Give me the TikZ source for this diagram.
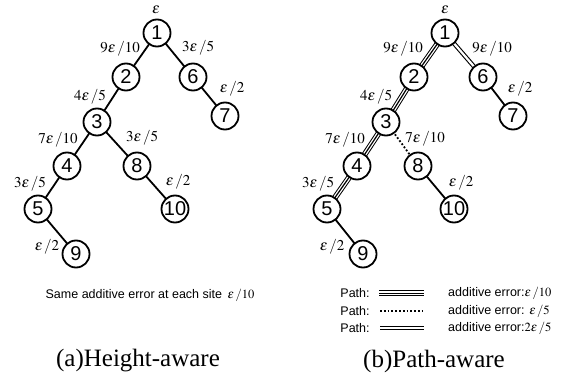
\RequirePackage{fix-cm}
\documentclass[tikz,border=0pt]{standalone}
\usepackage{mathptmx}
\usepackage{fontspec}
\setmainfont{Liberation Serif}
\newfontfamily\hv{Liberation Sans}
\begin{document}
\begin{tikzpicture}[x=1pt,y=-1pt,
  vtx/.style={circle,draw,line width=1.8pt,fill=white,minimum size=27pt,inner sep=0pt,
    font=\hv\fontsize{20}{20}\selectfont},
  lbl/.style={inner sep=0pt,font=\fontsize{15}{15}\selectfont},
  legtxt/.style={inner sep=0pt,font=\hv\fontsize{12.5}{12.5}\selectfont},
  captxt/.style={inner sep=0pt,font=\fontsize{25}{25}\selectfont},
  edge/.style={line width=1.8pt},
  dblpath/.style={line width=1.1pt,double,double distance=2.2pt},
  tripleouter/.style={line width=1pt,double,double distance=3.8pt},
  triplecore/.style={line width=1.2pt},
  dotpath/.style={line width=1.8pt,dotted}]
\useasboundingbox (0,0) rectangle (580,377);

% ---------- (a) height-aware tree ----------
\coordinate (a1) at (157,33);  \coordinate (a2) at (126,77);
\coordinate (a6) at (193,77);  \coordinate (a7) at (225,116);
\coordinate (a3) at (97,122);  \coordinate (a4) at (67,166);
\coordinate (a8) at (137,166); \coordinate (a5) at (38,209);
\coordinate (a10) at (175,209);\coordinate (a9) at (76,254);

\draw[edge] (a1)--(a2) (a1)--(a6) (a6)--(a7) (a2)--(a3) (a3)--(a4)
  (a3)--(a8) (a4)--(a5) (a8)--(a10) (a5)--(a9);

\foreach \n in {1,...,10} \node[vtx] (na\n) at (a\n) {\n};

\node[lbl] (la0) at (156,10) {$\varepsilon$};
\node[lbl] (la1) at (120,49) {$9\varepsilon\,/10$};
\node[lbl] (la2) at (198,48) {$3\varepsilon\,/5$};
\node[lbl] (la3) at (232,89) {$\varepsilon\,/2$};
\node[lbl] (la4) at (90,97) {$4\varepsilon\,/5$};
\node[lbl] (la5) at (58,140) {$7\varepsilon\,/10$};
\node[lbl] (la6) at (142,138) {$3\varepsilon\,/5$};
\node[lbl] (la7) at (178,182) {$\varepsilon\,/2$};
\node[lbl] (la8) at (30,184) {$3\varepsilon\,/5$};
\node[lbl] (la9) at (47,247) {$\varepsilon\,/2$};

\node[legtxt] (same) at (150,295) {Same additive error at each site \,$\varepsilon\,/10$};
\node[captxt] (capa) at (138,361) {(a)Height-aware};

% ---------- (b) path-aware tree ----------
\coordinate (b1) at (445,33);  \coordinate (b2) at (414,77);
\coordinate (b6) at (483,77);  \coordinate (b7) at (513,116);
\coordinate (b3) at (386,122); \coordinate (b4) at (357,166);
\coordinate (b8) at (418,166); \coordinate (b5) at (327,209);
\coordinate (b10) at (454,209);\coordinate (b9) at (363,254);

\draw[tripleouter] (b1)--(b2) (b2)--(b3) (b3)--(b4) (b4)--(b5);
\draw[triplecore] (b1)--(b2) (b2)--(b3) (b3)--(b4) (b4)--(b5);
\draw[dblpath] (b1)--(b6);
\draw[dotpath] (b3)--(b8);
\draw[edge] (b6)--(b7) (b8)--(b10) (b5)--(b9);

\foreach \n in {1,...,10} \node[vtx] (nb\n) at (b\n) {\n};

\node[lbl] (lb0) at (445,10) {$\varepsilon$};
\node[lbl] (lb1) at (403,49) {$9\varepsilon\,/10$};
\node[lbl] (lb2) at (492,49) {$9\varepsilon\,/10$};
\node[lbl] (lb3) at (520,89) {$\varepsilon\,/2$};
\node[lbl] (lb4) at (376,97) {$4\varepsilon\,/5$};
\node[lbl] (lb5) at (345,140) {$7\varepsilon\,/10$};
\node[lbl] (lb6) at (425,139) {$7\varepsilon\,/10$};
\node[lbl] (lb7) at (461,183) {$\varepsilon\,/2$};
\node[lbl] (lb8) at (318,184) {$3\varepsilon\,/5$};
\node[lbl] (lb9) at (332,247) {$\varepsilon\,/2$};

% legend
\node[legtxt] (p1) at (355,293) {Path:};
\node[legtxt] (p2) at (355,311) {Path:};
\node[legtxt] (p3) at (355,328) {Path:};
\coordinate (s1) at (379,293); \coordinate (e1) at (424,293);
\coordinate (s2) at (380,311); \coordinate (e2) at (423,311);
\coordinate (s3) at (380,328); \coordinate (e3) at (424,328);
\draw[tripleouter,line width=1pt,double distance=3.4pt] (s1)--(e1);
\draw[triplecore,line width=1pt] (s1)--(e1);
\draw[dotpath,line width=1.5pt] (s2)--(e2);
\draw[dblpath,line width=1pt,double distance=1.8pt] (s3)--(e3);
\node[legtxt,anchor=west] (t1) at (448,293) {additive error:$\varepsilon\,/10$};
\node[legtxt,anchor=west] (t2) at (448,311) {additive error: $\varepsilon\,/5$};
\node[legtxt,anchor=west] (t3) at (448,328) {additive error:$2\varepsilon\,/5$};

\node[captxt] (capb) at (434,361) {(b)Path-aware};
\end{tikzpicture}
\end{document}
